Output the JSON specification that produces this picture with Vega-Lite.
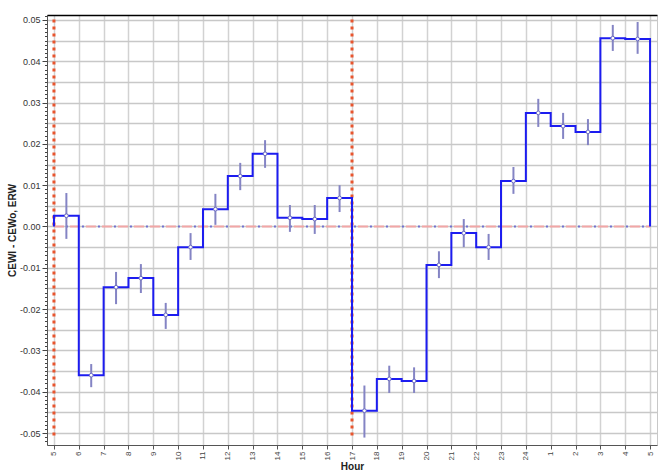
{
  "$schema": "https://vega.github.io/schema/vega-lite/v6.json",
  "width": 610,
  "height": 430,
  "autosize": "none",
  "padding": {"left": 47, "top": 15, "right": 7, "bottom": 29},
  "background": "white",
  "config": {
    "view": {"stroke": "#c8c8c8", "strokeWidth": 1},
    "font": "Liberation Sans"
  },
  "datasets": {
    "bars": [
      {"hour": "5", "x": 0.5, "v": 0.0026, "lo": -0.0030, "hi": 0.0081},
      {"hour": "6", "x": 1.5, "v": -0.0360, "lo": -0.0389, "hi": -0.0333},
      {"hour": "7", "x": 2.5, "v": -0.0147, "lo": -0.0188, "hi": -0.0110},
      {"hour": "8", "x": 3.5, "v": -0.0125, "lo": -0.0161, "hi": -0.0091},
      {"hour": "9", "x": 4.5, "v": -0.0214, "lo": -0.0248, "hi": -0.0185},
      {"hour": "10", "x": 5.5, "v": -0.0050, "lo": -0.0081, "hi": -0.0016},
      {"hour": "11", "x": 6.5, "v": 0.0042, "lo": 0.0004, "hi": 0.0079},
      {"hour": "12", "x": 7.5, "v": 0.0122, "lo": 0.0088, "hi": 0.0154},
      {"hour": "13", "x": 8.5, "v": 0.0176, "lo": 0.0142, "hi": 0.0209},
      {"hour": "14", "x": 9.5, "v": 0.0021, "lo": -0.0013, "hi": 0.0052},
      {"hour": "15", "x": 10.5, "v": 0.0018, "lo": -0.0018, "hi": 0.0052},
      {"hour": "16", "x": 11.5, "v": 0.0069, "lo": 0.0035, "hi": 0.0100},
      {"hour": "17", "x": 12.5, "v": -0.0446, "lo": -0.0511, "hi": -0.0385},
      {"hour": "18", "x": 13.5, "v": -0.0369, "lo": -0.0403, "hi": -0.0337},
      {"hour": "19", "x": 14.5, "v": -0.0374, "lo": -0.0403, "hi": -0.0341},
      {"hour": "20", "x": 15.5, "v": -0.0093, "lo": -0.0125, "hi": -0.0060},
      {"hour": "21", "x": 16.5, "v": -0.0016, "lo": -0.0050, "hi": 0.0018},
      {"hour": "22", "x": 17.5, "v": -0.0050, "lo": -0.0081, "hi": -0.0018},
      {"hour": "23", "x": 18.5, "v": 0.0110, "lo": 0.0079, "hi": 0.0144},
      {"hour": "24", "x": 19.5, "v": 0.0275, "lo": 0.0241, "hi": 0.0309},
      {"hour": "1", "x": 20.5, "v": 0.0243, "lo": 0.0212, "hi": 0.0275},
      {"hour": "2", "x": 21.5, "v": 0.0229, "lo": 0.0197, "hi": 0.0260},
      {"hour": "3", "x": 22.5, "v": 0.0456, "lo": 0.0425, "hi": 0.0488},
      {"hour": "4", "x": 23.5, "v": 0.0454, "lo": 0.0418, "hi": 0.0495}
    ],
    "steps": [
      {"i": 0, "x": 0, "y": 0},
      {"i": 1, "x": 0, "y": 0.0026},
      {"i": 2, "x": 1, "y": -0.0360},
      {"i": 3, "x": 2, "y": -0.0147},
      {"i": 4, "x": 3, "y": -0.0125},
      {"i": 5, "x": 4, "y": -0.0214},
      {"i": 6, "x": 5, "y": -0.0050},
      {"i": 7, "x": 6, "y": 0.0042},
      {"i": 8, "x": 7, "y": 0.0122},
      {"i": 9, "x": 8, "y": 0.0176},
      {"i": 10, "x": 9, "y": 0.0021},
      {"i": 11, "x": 10, "y": 0.0018},
      {"i": 12, "x": 11, "y": 0.0069},
      {"i": 13, "x": 12, "y": -0.0446},
      {"i": 14, "x": 13, "y": -0.0369},
      {"i": 15, "x": 14, "y": -0.0374},
      {"i": 16, "x": 15, "y": -0.0093},
      {"i": 17, "x": 16, "y": -0.0016},
      {"i": 18, "x": 17, "y": -0.0050},
      {"i": 19, "x": 18, "y": 0.0110},
      {"i": 20, "x": 19, "y": 0.0275},
      {"i": 21, "x": 20, "y": 0.0243},
      {"i": 22, "x": 21, "y": 0.0229},
      {"i": 23, "x": 22, "y": 0.0456},
      {"i": 24, "x": 23, "y": 0.0454},
      {"i": 25, "x": 24, "y": 0.0454},
      {"i": 26, "x": 24, "y": 0}
    ],
    "vlines": [
      {"x": 0, "top": 0.0501, "bottom": -0.0511},
      {"x": 12, "top": 0.0501, "bottom": -0.0511}
    ],
    "zero": [
      {"x": 0, "x2": 24, "y": 0}
    ]
  },
  "layer": [
    {
      "data": {"name": "zero"},
      "mark": {"type": "rule", "color": "#f2a6a6", "strokeWidth": 2, "strokeDash": [10, 6]},
      "encoding": {
        "x": {
          "field": "x", "type": "quantitative",
          "scale": {"domain": [-0.28, 24.28], "nice": false, "zero": false},
          "axis": {
            "values": [0,1,2,3,4,5,6,7,8,9,10,11,12,13,14,15,16,17,18,19,20,21,22,23,24],
            "tickCount": 200,
            "labelExpr": "'' + ((datum.value + 4) % 24 + 1)",
            "labelAngle": 270,
            "labelFontSize": 8,
            "labelColor": "#444444",
            "labelPadding": 2,
            "labelOverlap": false,
            "tickSize": 4,
            "tickColor": "#555555",
            "domainColor": "#555555",
            "grid": true,
            "gridColor": "#d2d2d2",
            "gridWidth": 1.5,
            "title": "Hour",
            "titleFontSize": 10,
            "titleFontWeight": "bold",
            "titleColor": "#222222",
            "titleY": 21,
            "titleBaseline": "middle"
          }
        },
        "x2": {"field": "x2"},
        "y": {
          "field": "y", "type": "quantitative",
          "scale": {"domain": [-0.0529, 0.0512], "nice": false, "zero": false},
          "axis": {
            "values": [-0.052,-0.051,-0.05,-0.049,-0.048,-0.047,-0.046,-0.045,-0.044,-0.043,-0.042,-0.041,-0.04,-0.039,-0.038,-0.037,-0.036,-0.035,-0.034,-0.033,-0.032,-0.031,-0.03,-0.029,-0.028,-0.027,-0.026,-0.025,-0.024,-0.023,-0.022,-0.021,-0.02,-0.019,-0.018,-0.017,-0.016,-0.015,-0.014,-0.013,-0.012,-0.011,-0.01,-0.009,-0.008,-0.007,-0.006,-0.005,-0.004,-0.003,-0.002,-0.001,0,0.001,0.002,0.003,0.004,0.005,0.006,0.007,0.008,0.009,0.01,0.011,0.012,0.013,0.014,0.015,0.016,0.017,0.018,0.019,0.02,0.021,0.022,0.023,0.024,0.025,0.026,0.027,0.028,0.029,0.03,0.031,0.032,0.033,0.034,0.035,0.036,0.037,0.038,0.039,0.04,0.041,0.042,0.043,0.044,0.045,0.046,0.047,0.048,0.049,0.05,0.051],
            "tickCount": 500,
            "labelExpr": "abs(datum.value*100 - round(datum.value*100)) < 0.01 ? replace(format(datum.value, '.2f'), '\u2212', '-') : ''",
            "labelFontSize": 9,
            "labelColor": "#333333",
            "labelPadding": 2,
            "labelOverlap": false,
            "tickColor": "#444444",
            "tickSize": {"condition": {"test": "abs(datum.value*100 - round(datum.value*100)) < 0.01", "value": 5}, "value": 2.5},
            "domainColor": "#555555",
            "grid": true,
            "gridColor": "#c8c8c8",
            "gridWidth": 1.5,
            "gridOpacity": {"condition": {"test": "abs(datum.value*200 - round(datum.value*200)) < 0.01", "value": 1}, "value": 0},
            "title": "CEWI - CEWo, ERW",
            "titleFontSize": 10,
            "titleFontWeight": "bold",
            "titleColor": "#222222",
            "titleX": -35,
            "titleY": 215,
            "titleAngle": 270,
            "titleAlign": "center",
            "titleBaseline": "middle"
          }
        }
      }
    },
    {
      "data": {"name": "zero"},
      "mark": {"type": "rule", "color": "#7070d0", "strokeWidth": 2, "strokeDash": [2, 14], "strokeDashOffset": -12},
      "encoding": {
        "x": {"field": "x", "type": "quantitative", "axis": {"orient": "top", "domain": true, "labels": false, "ticks": false, "grid": false, "title": null, "domainColor": "#000000", "domainWidth": 1.5, "zindex": 2}},
        "x2": {"field": "x2"},
        "y": {"field": "y", "type": "quantitative"}
      }
    },
    {
      "data": {"name": "vlines"},
      "mark": {"type": "rule", "color": "#e8552e", "strokeWidth": 3, "strokeDash": [3, 4]},
      "encoding": {
        "x": {"field": "x", "type": "quantitative", "axis": null},
        "y": {"field": "top", "type": "quantitative"},
        "y2": {"field": "bottom"}
      }
    },
    {
      "data": {"name": "steps"},
      "mark": {"type": "line", "color": "#1c1cf0", "strokeWidth": 2, "interpolate": "step-after"},
      "encoding": {
        "x": {"field": "x", "type": "quantitative", "axis": null},
        "y": {"field": "y", "type": "quantitative"},
        "order": {"field": "i", "type": "quantitative"}
      }
    },
    {
      "data": {"name": "bars"},
      "mark": {"type": "rule", "color": "#8484c4", "strokeWidth": 2},
      "encoding": {
        "x": {"field": "x", "type": "quantitative", "axis": null},
        "y": {"field": "lo", "type": "quantitative"},
        "y2": {"field": "hi"}
      }
    },
    {
      "data": {"name": "bars"},
      "mark": {"type": "point", "filled": true, "fill": "white", "stroke": "#6a6ac0", "strokeWidth": 1, "size": 14, "opacity": 1},
      "encoding": {
        "x": {"field": "x", "type": "quantitative", "axis": null},
        "y": {"field": "v", "type": "quantitative"}
      }
    }
  ],
  "resolve": {"axis": {"x": "independent"}}
}
